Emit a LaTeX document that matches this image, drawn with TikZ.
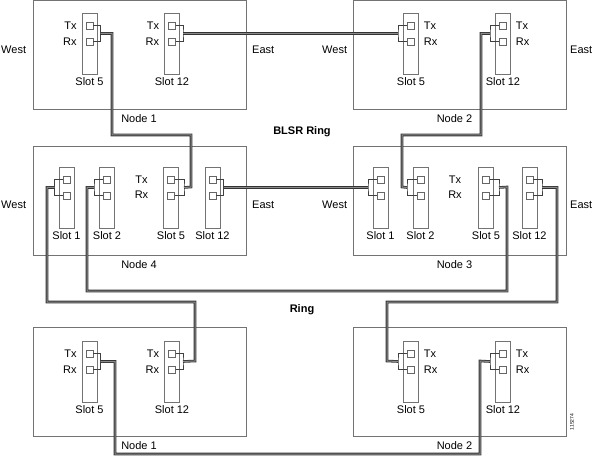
\documentclass[tikz,border=0pt]{standalone}
\usepackage{fontspec}
\setmainfont{Liberation Sans}
\usetikzlibrary{positioning}

% card: name, x, top y, bracket side, bracket offset, slot number
\newcommand{\slotcard}[6]{%
  \node[card] (#1) at (#2,{#3+30.5}) {};
  \node[port] (#1tx) at (#2,{#3+12.5}) {};
  \node[port] (#1rx) at (#2,{#3+28.5}) {};
  \coordinate (#1b) at ({#2+#5},{#3+20.5});
  \draw[wire] (#1tx.#4) -| (#1b) |- (#1rx.#4);
  \node[lbl, below=3pt of #1] (#1l) {Slot #6};
}

\begin{document}
\begin{tikzpicture}[x=1pt, y=-1pt,
    nodebox/.style = {draw=black!55, minimum width=213pt, minimum height=109pt, inner sep=0pt},
    card/.style = {draw=black!55, minimum width=15pt, minimum height=61pt, inner sep=0pt},
    port/.style = {draw=black!60, minimum size=7pt, inner sep=0pt},
    wire/.style = {draw=black!75, line width=0.5pt},
    fiber/.style = {draw=black!80, line width=0.8pt, double=black!45, double distance=1pt},
    lbl/.style = {inner sep=0pt, font=\fontsize{11}{13}\selectfont},
    heading/.style = {inner sep=0pt, font=\fontsize{11}{13}\selectfont\bfseries}]
    \useasboundingbox (0,0) rectangle (597,465);

    % node boxes
    \node[nodebox] (top1) at (140,55) {};
    \node[nodebox] (top2) at (459.5,55) {};
    \node[nodebox] (mid4) at (140,200.5) {};
    \node[nodebox] (mid3) at (459.5,200.5) {};
    \node[nodebox] (bot1) at (140,381.5) {};
    \node[nodebox] (bot2) at (459.5,381.5) {};

    \node[lbl, below=5pt of top1, xshift=-1pt] (top1l) {Node 1};
    \node[lbl, below=5pt of top2, xshift=-5pt] (top2l) {Node 2};
    \node[lbl, below=5pt of mid4, xshift=-1pt] (mid4l) {Node 4};
    \node[lbl, below=5pt of mid3, xshift=-5pt] (mid3l) {Node 3};
    \node[lbl, below=5pt of bot1, xshift=-1pt] (bot1l) {Node 1};
    \node[lbl, below=5pt of bot2, xshift=-5pt] (bot2l) {Node 2};

    \node[lbl, anchor=west] (top1w) at (1,50) {West};
    \node[lbl, anchor=west] (top1e) at (252,50) {East};
    \node[lbl, anchor=west] (top2w) at (322,50) {West};
    \node[lbl, anchor=west] (top2e) at (570,50) {East};
    \node[lbl, anchor=west] (mid4w) at (1,205) {West};
    \node[lbl, anchor=west] (mid4e) at (252,205) {East};
    \node[lbl, anchor=west] (mid3w) at (322,205) {West};
    \node[lbl, anchor=west] (mid3e) at (570,205) {East};

    \node[heading] (blsr) at (302,132) {BLSR Ring};
    \node[heading] (ring) at (302,310) {Ring};

    % cards
    \slotcard{t1s5}{89.5}{13}{east}{11}{5}
    \slotcard{t1s12}{172}{13}{east}{11}{12}
    \slotcard{t2s5}{411}{13}{west}{-13}{5}
    \slotcard{t2s12}{503}{13}{west}{-13}{12}
    \slotcard{m4s1}{66.5}{167}{west}{-12}{1}
    \slotcard{m4s2}{107}{167}{west}{-13}{2}
    \slotcard{m4s5}{171}{167}{east}{13}{5}
    \slotcard{m4s12}{212.5}{167}{east}{11}{12}
    \slotcard{m3s1}{380.5}{167}{west}{-12.5}{1}
    \slotcard{m3s2}{420.5}{167}{west}{-13.5}{2}
    \slotcard{m3s5}{486}{167}{east}{13}{5}
    \slotcard{m3s12}{529.5}{167}{east}{12.5}{12}
    \slotcard{b1s5}{89.5}{341}{east}{11}{5}
    \slotcard{b1s12}{172}{341}{east}{11}{12}
    \slotcard{b2s5}{411}{341}{west}{-13}{5}
    \slotcard{b2s12}{503}{341}{west}{-13}{12}

    % Tx / Rx
    \node[lbl, left=9pt of t1s5tx] (t1s5txl) {Tx};
    \node[lbl, left=9pt of t1s5rx] (t1s5rxl) {Rx};
    \node[lbl, left=9pt of t1s12tx] (t1s12txl) {Tx};
    \node[lbl, left=9pt of t1s12rx] (t1s12rxl) {Rx};
    \node[lbl, right=9pt of t2s5tx] (t2s5txl) {Tx};
    \node[lbl, right=9pt of t2s5rx] (t2s5rxl) {Rx};
    \node[lbl, right=9pt of t2s12tx] (t2s12txl) {Tx};
    \node[lbl, right=9pt of t2s12rx] (t2s12rxl) {Rx};
    \node[lbl] (m4tx) at (141.5,180) {Tx};
    \node[lbl] (m4rx) at (141.5,195) {Rx};
    \node[lbl] (m3tx) at (455,180) {Tx};
    \node[lbl] (m3rx) at (455,195) {Rx};
    \node[lbl, left=9pt of b1s5tx] (b1s5txl) {Tx};
    \node[lbl, left=9pt of b1s5rx] (b1s5rxl) {Rx};
    \node[lbl, left=9pt of b1s12tx] (b1s12txl) {Tx};
    \node[lbl, left=9pt of b1s12rx] (b1s12rxl) {Rx};
    \node[lbl, right=9pt of b2s5tx] (b2s5txl) {Tx};
    \node[lbl, right=9pt of b2s5rx] (b2s5rxl) {Rx};
    \node[lbl, right=9pt of b2s12tx] (b2s12txl) {Tx};
    \node[lbl, right=9pt of b2s12rx] (b2s12rxl) {Rx};

    % fibers
    \draw[fiber] (t1s5b) -| (112,135) -| (191,187) -- (m4s5b);
    \draw[fiber] (t1s12b) -- (t2s5b);
    \draw[fiber] (t2s12b) -| (481,135) -| (402,187) -- (m3s2b);
    \draw[fiber] (m4s12b) -- (m3s1b);
    \draw[fiber] (m4s1b) -| (47,302) -| (195,361) -- (b1s12b);
    \draw[fiber] (m4s2b) -| (87,291) -| (507,187) -- (m3s5b);
    \draw[fiber] (m3s12b) -| (557,302) -| (387,361) -- (b2s5b);
    \draw[fiber] (b1s5b) -| (115,454) -| (480,361) -- (b2s12b);

    \node[lbl, font=\fontsize{5}{6}\selectfont, rotate=90] (figno) at (572,422) {115274};
\end{tikzpicture}
\end{document}
